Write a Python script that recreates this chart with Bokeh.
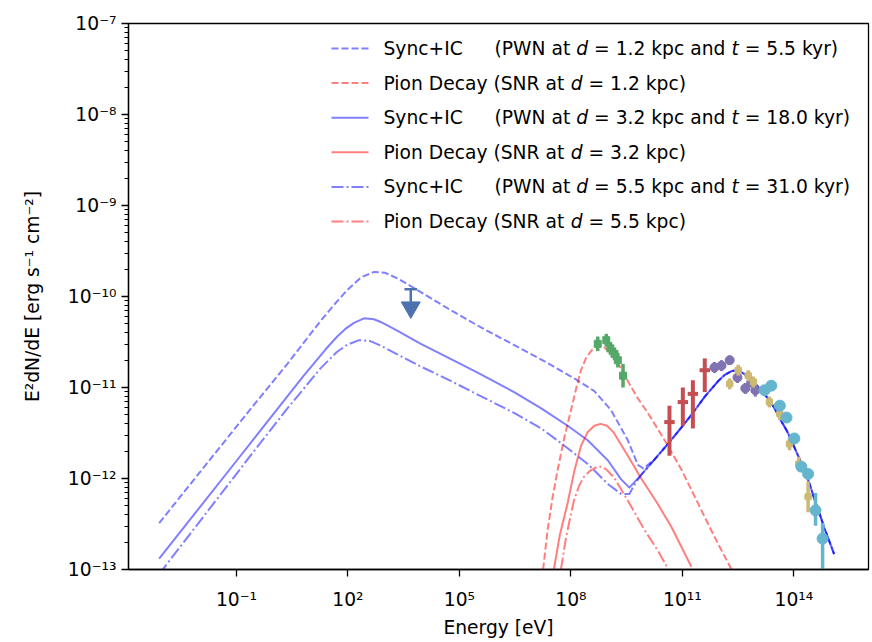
from bokeh.plotting import figure
from bokeh.models import Range1d, FixedTicker, CustomJSTickFormatter, Label
from bokeh.embed import file_html
from bokeh.resources import INLINE

FONT = "DejaVu Sans"
FS = "18.7px"

# ---------------------------------------------------------------------------
# Model curves: log10 E [eV] and log10 E^2 dN/dE [erg s^-1 cm^-2]
# ---------------------------------------------------------------------------
# high-energy inverse-Compton branch, common to the three PWN models
ic_tail_logE = [9.89, 10.25, 10.65, 11.01, 11.28, 11.60, 11.96, 12.14, 12.32, 12.45,
                12.58, 12.76, 12.94, 13.12, 13.30, 13.48, 13.66, 13.80, 13.93, 14.11,
                14.29, 14.42, 14.56, 14.70, 14.83, 14.96, 15.08]
ic_tail_logF = [-11.96, -11.79, -11.60, -11.42, -11.28, -11.10, -10.93, -10.86, -10.82, -10.81,
                -10.83, -10.88, -10.95, -11.03, -11.12, -11.23, -11.37, -11.47, -11.58, -11.75,
                -11.92, -12.06, -12.24, -12.40, -12.56, -12.70, -12.83]

# synchrotron + low-energy IC part of each PWN model
pwn_d12_logE = [-3.08, -1.61, -0.53, 0.37, 1.26, 1.65, 1.98, 2.35, 2.70, 3.00, 3.33, 3.87,
                4.60, 5.58, 6.50, 7.37, 8.09, 8.63, 9.08, 9.53, 9.80, 9.95]
pwn_d12_logF = [-12.49, -11.74, -11.19, -10.74, -10.27, -10.08, -9.93, -9.79, -9.73, -9.74, -9.80, -9.93,
                -10.11, -10.34, -10.54, -10.73, -10.90, -11.04, -11.25, -11.58, -11.85, -11.89]

pwn_d32_logE = [-3.08, -0.89, 0.81, 1.40, 1.71, 1.95, 2.16, 2.43, 2.70, 2.88, 3.30, 3.96, 4.68,
                5.50, 6.47, 7.20, 7.91, 8.45, 8.99, 9.35, 9.57]
pwn_d32_logF = [-12.88, -11.75, -10.87, -10.58, -10.44, -10.35, -10.29, -10.24, -10.25, -10.28, -10.37, -10.52, -10.67,
                -10.84, -11.05, -11.23, -11.42, -11.58, -11.80, -12.01, -12.10]

pwn_d55_logE = [-3.08, -0.53, 0.37, 1.26, 1.70, 1.98, 2.30, 2.60, 2.88, 3.30, 3.96, 4.68,
                5.50, 6.47, 7.20, 7.73, 8.45, 8.99, 9.35, 9.57, 9.75]
pwn_d55_logF = [-13.05, -11.70, -11.23, -10.79, -10.61, -10.53, -10.48, -10.49, -10.54, -10.63, -10.77, -10.91,
                -11.08, -11.28, -11.45, -11.61, -11.84, -12.06, -12.17, -12.17, -12.04]

# pion-decay emission of the SNR at the three distances
snr_d12_logE = [7.25, 7.37, 7.50, 7.64, 7.82, 8.00, 8.14, 8.27, 8.40, 8.54, 8.63, 8.72, 8.81,
                8.90, 9.10, 9.35, 9.57, 9.80, 10.07, 10.52, 10.97, 11.51, 11.91, 12.32]
snr_d12_logF = [-13.00, -12.57, -12.22, -11.91, -11.55, -11.25, -11.01, -10.81, -10.68, -10.60, -10.56, -10.54, -10.54,
                -10.56, -10.64, -10.79, -10.96, -11.12, -11.28, -11.58, -11.90, -12.35, -12.68, -13.00]

snr_d32_logE = [7.54, 7.70, 7.91, 8.10, 8.27, 8.45, 8.63, 8.80, 8.97, 9.14, 9.53,
                9.89, 10.29, 10.70, 11.24]
snr_d32_logF = [-13.00, -12.62, -12.27, -11.90, -11.64, -11.49, -11.42, -11.40, -11.42, -11.49, -11.75,
                -12.00, -12.25, -12.53, -12.97]

snr_d55_logE = [7.73, 7.87, 8.08, 8.22, 8.35, 8.50, 8.62, 8.72, 8.81, 8.95, 9.16, 9.54, 9.97, 10.35, 10.62]
snr_d55_logF = [-13.00, -12.64, -12.24, -12.08, -11.98, -11.92, -11.89, -11.87, -11.87, -11.90, -11.99,
                -12.25, -12.56, -12.80, -13.00]

# ---------------------------------------------------------------------------
# Measurements (log10 E, log10 flux, error limits)
# ---------------------------------------------------------------------------
xray_ul_logE = [3.69]
xray_ul_logF = [-9.92]

lat_logE = [8.72, 8.95, 9.06, 9.17, 9.26, 9.40]
lat_logF = [-10.52, -10.48, -10.57, -10.63, -10.70, -10.87]
lat_logF_err = [0.08, 0.07, 0.07, 0.07, 0.08, 0.13]
lat_logE_err = [0.09, 0.09, 0.09, 0.09, 0.09, 0.09]

red_logE = [10.65, 11.01, 11.28, 11.60]
red_logF = [-11.38, -11.16, -11.07, -10.81]
red_logF_lo = [-11.75, -11.42, -11.45, -11.05]
red_logF_hi = [-11.20, -11.00, -10.92, -10.68]
red_logE_err = [0.14, 0.14, 0.14, 0.14]

purple_logE = [11.86, 12.05, 12.27, 12.48, 12.69, 12.85, 12.96]
purple_logF = [-10.78, -10.76, -10.70, -10.89, -11.01, -10.94, -11.03]
purple_logF_err = [0.06, 0.06, 0.05, 0.06, 0.06, 0.06, 0.07]

tan_logE = [12.27, 12.50, 12.77, 12.91, 13.34, 13.62, 13.88, 14.13, 14.38]
tan_logF = [-10.96, -10.81, -10.87, -10.94, -11.16, -11.29, -11.62, -11.84, -12.20]
tan_logF_err = [0.06, 0.06, 0.06, 0.06, 0.06, 0.07, 0.07, 0.08, 0.17]
tan_logE_err = [0.10, 0.10, 0.10, 0.10, 0.10, 0.10, 0.10, 0.10, 0.10]

cyan_logE = [13.21, 13.39, 13.62, 13.80, 14.01, 14.20, 14.38, 14.58, 14.77]
cyan_logF = [-11.03, -10.98, -11.20, -11.33, -11.56, -11.87, -11.95, -12.35, -12.66]
cyan_logF_lo = [-11.07, -11.02, -11.24, -11.37, -11.61, -11.92, -12.00, -12.52, -13.40]
cyan_logF_hi = [-10.99, -10.94, -11.16, -11.29, -11.51, -11.82, -11.90, -12.16, -12.49]

# axis ticks
x_tick_logs = [-1, 2, 5, 8, 11, 14]
x_tick_labels = ["10\u207b\u00b9", "10\u00b2", "10\u2075", "10\u2078", "10\u00b9\u00b9", "10\u00b9\u2074"]
y_tick_logs = [-13, -12, -11, -10, -9, -8, -7]
y_tick_labels = ["10\u207b\u00b9\u00b3", "10\u207b\u00b9\u00b2", "10\u207b\u00b9\u00b9", "10\u207b\u00b9\u2070",
                 "10\u207b\u2079", "10\u207b\u2078", "10\u207b\u2077"]

x_title = "Energy [eV]"
y_title = "E\u00b2dN/dE [erg s\u207b\u00b9 cm\u207b\u00b2]"

# legend entries
legend_rows = [
    ("pwn", "Sync+IC", [("(PWN at ", False), ("d", True), (" = 1.2 kpc and ", False), ("t", True), (" = 5.5 kyr)", False)]),
    ("snr", None, [("Pion Decay (SNR at ", False), ("d", True), (" = 1.2 kpc)", False)]),
    ("pwn", "Sync+IC", [("(PWN at ", False), ("d", True), (" = 3.2 kpc and ", False), ("t", True), (" = 18.0 kyr)", False)]),
    ("snr", None, [("Pion Decay (SNR at ", False), ("d", True), (" = 3.2 kpc)", False)]),
    ("pwn", "Sync+IC", [("(PWN at ", False), ("d", True), (" = 5.5 kpc and ", False), ("t", True), (" = 31.0 kyr)", False)]),
    ("snr", None, [("Pion Decay (SNR at ", False), ("d", True), (" = 5.5 kpc)", False)]),
]

# ---------------------------------------------------------------------------
# Figure geometry
# ---------------------------------------------------------------------------
W, H = 872, 642
FRAME_L, FRAME_T, FRAME_W, FRAME_H = 128, 23, 740, 546
LOGX0, LOGX1 = -3.905, 16.005
LOGY0, LOGY1 = -13.0, -7.0


def px_to_x(px):
    return 10 ** (LOGX0 + (px - FRAME_L) / FRAME_W * (LOGX1 - LOGX0))


def px_to_y(py):
    return 10 ** (LOGY1 - (py - FRAME_T) / FRAME_H * (LOGY1 - LOGY0))


def lin(v):
    return [10 ** a for a in v]


p = figure(width=W, height=H, x_axis_type="log", y_axis_type="log",
           x_range=Range1d(10 ** LOGX0, 10 ** LOGX1), y_range=Range1d(10 ** LOGY0, 10 ** LOGY1),
           output_backend="svg", toolbar_location=None,
           min_border_left=FRAME_L, min_border_right=W - FRAME_L - FRAME_W,
           min_border_top=FRAME_T, min_border_bottom=H - FRAME_T - FRAME_H)
p.background_fill_color = "white"
p.border_fill_color = "white"
p.grid.visible = False
p.outline_line_color = "black"
p.outline_line_width = 1.3
p.outline_line_alpha = 1.0

DASH = {"dashed": "7 3", "solid": "solid", "dashdot": "12 3 2 3"}
LW = 2.0


def draw_curve(logE, logF, color, dash):
    p.line(lin(logE), lin(logF), line_color=color, line_alpha=0.5, line_width=LW,
           line_dash=DASH[dash], line_join="round")


def with_tail(logE, logF):
    e = list(logE) + [a for a in ic_tail_logE if a > logE[-1]]
    f = list(logF) + [b for a, b in zip(ic_tail_logE, ic_tail_logF) if a > logE[-1]]
    return e, f


draw_curve(*with_tail(pwn_d12_logE, pwn_d12_logF), "blue", "dashed")
draw_curve(snr_d12_logE, snr_d12_logF, "red", "dashed")
draw_curve(*with_tail(pwn_d32_logE, pwn_d32_logF), "blue", "solid")
draw_curve(snr_d32_logE, snr_d32_logF, "red", "solid")
draw_curve(*with_tail(pwn_d55_logE, pwn_d55_logF), "blue", "dashdot")
draw_curve(snr_d55_logE, snr_d55_logF, "red", "dashdot")


# ---------------------------------------------------------------------------
# Measurements
# ---------------------------------------------------------------------------
def vbars(logE, lo, hi, color, width):
    p.segment(x0=lin(logE), y0=lin(lo), x1=lin(logE), y1=lin(hi), line_color=color, line_width=width)


def hbars(logE, logF, half, color, width):
    p.segment(x0=[10 ** (a - h) for a, h in zip(logE, half)], y0=lin(logF),
              x1=[10 ** (a + h) for a, h in zip(logE, half)], y1=lin(logF),
              line_color=color, line_width=width)


# X-ray upper limit
UL_C = "#4c72b0"
p.segment(x0=[10 ** (a - 0.17) for a in xray_ul_logE], y0=lin(xray_ul_logF),
          x1=[10 ** (a + 0.17) for a in xray_ul_logE], y1=lin(xray_ul_logF),
          line_color=UL_C, line_width=2.5)
p.segment(x0=lin(xray_ul_logE), y0=lin(xray_ul_logF),
          x1=lin(xray_ul_logE), y1=[10 ** (b - 0.14) for b in xray_ul_logF],
          line_color=UL_C, line_width=2.5)
p.scatter(lin(xray_ul_logE), [10 ** (b - 0.2) for b in xray_ul_logF], marker="inverted_triangle",
          size=19, fill_color=UL_C, line_color=UL_C)

# Fermi-LAT band
G_C = "#55a868"
vbars(lat_logE, [b - e for b, e in zip(lat_logF, lat_logF_err)],
      [b + e for b, e in zip(lat_logF, lat_logF_err)], G_C, 3.5)
hbars(lat_logE, lat_logF, lat_logE_err, G_C, 3.5)
p.scatter(lin(lat_logE), lin(lat_logF), marker="square", size=7, fill_color=G_C, line_color=G_C)

# sub-TeV points
R_C = "#c44e52"
vbars(red_logE, red_logF_lo, red_logF_hi, R_C, 4)
hbars(red_logE, red_logF, red_logE_err, R_C, 4)

# TeV points
P_C = "#8172b2"
vbars(purple_logE, [b - e for b, e in zip(purple_logF, purple_logF_err)],
      [b + e for b, e in zip(purple_logF, purple_logF_err)], P_C, 3)
p.scatter(lin(purple_logE), lin(purple_logF), marker="circle", size=9, fill_color=P_C, line_color=P_C)

T_C = "#ccb974"
vbars(tan_logE, [b - e for b, e in zip(tan_logF, tan_logF_err)],
      [b + e for b, e in zip(tan_logF, tan_logF_err)], T_C, 3.5)
hbars(tan_logE, tan_logF, tan_logE_err, T_C, 3.5)
p.scatter(lin(tan_logE), lin(tan_logF), marker="square", size=6, fill_color=T_C, line_color=T_C)

C_C = "#64b5cd"
vbars(cyan_logE, cyan_logF_lo, cyan_logF_hi, C_C, 3.5)
p.scatter(lin(cyan_logE), lin(cyan_logF), marker="circle", size=11, fill_color=C_C, line_color=C_C)

# ---------------------------------------------------------------------------
# Axes
# ---------------------------------------------------------------------------
p.xaxis.ticker = FixedTicker(ticks=lin(x_tick_logs), minor_ticks=[])
p.yaxis.ticker = FixedTicker(ticks=lin(y_tick_logs),
                             minor_ticks=[k * 10.0 ** n for n in range(-13, -7) for k in range(2, 10)])
fmt_code = """
let best = 0, bd = Infinity;
for (let i = 0; i < vals.length; i++) {
  const d = Math.abs(Math.log10(tick) - vals[i]);
  if (d < bd) { bd = d; best = i; }
}
return labs[best];
"""
p.xaxis.formatter = CustomJSTickFormatter(args=dict(vals=x_tick_logs, labs=x_tick_labels), code=fmt_code)
p.yaxis.formatter = CustomJSTickFormatter(args=dict(vals=y_tick_logs, labs=y_tick_labels), code=fmt_code)

for ax in (p.xaxis[0], p.yaxis[0]):
    ax.axis_line_color = "black"
    ax.axis_line_width = 1.3
    ax.major_tick_in = 0
    ax.major_tick_out = 7
    ax.minor_tick_in = 0
    ax.minor_tick_out = 4
    ax.major_tick_line_width = 1.3
    ax.minor_tick_line_width = 1.0
    ax.major_label_text_font = FONT
    ax.major_label_text_font_size = FS
    ax.major_label_text_color = "black"
    ax.axis_label_text_font = FONT
    ax.axis_label_text_font_size = FS
    ax.axis_label_text_font_style = "normal"
    ax.axis_label_text_color = "black"

p.xaxis.axis_label = x_title
p.xaxis.major_label_standoff = 12
p.xaxis.axis_label_standoff = 4
p.yaxis.axis_label = y_title
p.yaxis.major_label_standoff = 5
p.yaxis.axis_label_standoff = 22

# ---------------------------------------------------------------------------
# Legend (drawn by hand so the symbols d and t can be set in italics)
# DejaVu Sans advance widths, units per em = 2048
# ---------------------------------------------------------------------------
ADV = {' ': 651, '(': 799, ')': 799, '+': 1716, '=': 1716, '.': 651,
       'P': 1235, 'W': 2025, 'N': 1532, 'S': 1300, 'R': 1423, 'D': 1577, 'C': 1430, 'I': 604,
       'a': 1255, 't': 803, 'd': 1300, 'k': 1186, 'p': 1300, 'c': 1126, 'n': 1298, 'y': 1212,
       'r': 842, 'o': 1253, 'e': 1260, 'i': 569, 's': 1067}
for ch in "0123456789":
    ADV[ch] = 1303
FS_PX = 18.7


def text_w(s):
    return sum(ADV.get(ch, 1200) for ch in s) * FS_PX / 2048.0


def put_tokens(x0, y, tokens):
    x = x0
    for txt, italic in tokens:
        body = txt.strip()
        lead = len(txt) - len(txt.lstrip())
        if body:
            p.add_layout(Label(x=px_to_x(x + text_w(txt[:lead])), y=px_to_y(y), text=body,
                               text_font=FONT, text_font_size=FS,
                               text_font_style="italic" if italic else "normal",
                               text_color="black", text_align="left", text_baseline="middle"))
        x += text_w(txt)


LEG_LINE_X0, LEG_LINE_X1 = 331, 368
LEG_TEXT_X, LEG_COL2_X = 383, 494
LEG_ROW_Y0, LEG_ROW_DY = 48, 34.6
styles = ["dashed", "dashed", "solid", "solid", "dashdot", "dashdot"]
for i, (kind, head, tokens) in enumerate(legend_rows):
    ry = LEG_ROW_Y0 + i * LEG_ROW_DY
    color = "blue" if kind == "pwn" else "red"
    p.line([px_to_x(LEG_LINE_X0), px_to_x(LEG_LINE_X1)], [px_to_y(ry), px_to_y(ry)],
           line_color=color, line_alpha=0.5, line_width=LW, line_dash=DASH[styles[i]])
    if head is not None:
        put_tokens(LEG_TEXT_X, ry, [(head, False)])
        put_tokens(LEG_COL2_X, ry, tokens)
    else:
        put_tokens(LEG_TEXT_X, ry, tokens)

open("out.html", "w").write(file_html(p, INLINE))
